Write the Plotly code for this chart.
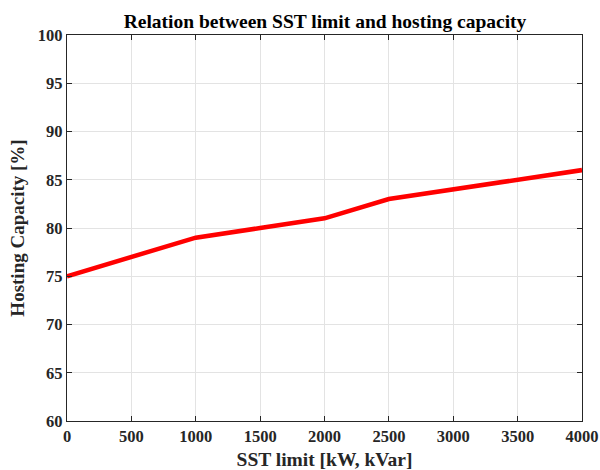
import plotly.graph_objects as go

sst_limit = [0, 500, 1000, 1500, 2000, 2500, 3000, 3500, 4000]
hosting_capacity = [75, 77, 79, 80, 81, 83, 84, 85, 86]
x_ticks = [0, 500, 1000, 1500, 2000, 2500, 3000, 3500, 4000]
y_ticks = [60, 65, 70, 75, 80, 85, 90, 95, 100]

font_family = "Liberation Serif, Times New Roman, serif"

fig = go.Figure()
fig.add_trace(go.Scatter(x=sst_limit, y=hosting_capacity, mode="lines",
                         line=dict(color="#ff0000", width=4.5), showlegend=False))

axis_common = dict(
    showline=True, linecolor="#262626", linewidth=1.3, mirror="ticks",
    ticks="inside", ticklen=5, tickwidth=1, tickcolor="#262626",
    showgrid=True, gridcolor="#e3e3e3", gridwidth=1, zeroline=False,
    automargin=False,
    tickfont=dict(family=font_family, size=16.5, color="#262626", weight="bold"),
)

fig.update_layout(
    width=600, height=470,
    margin=dict(l=67, r=18, t=35, b=49),
    paper_bgcolor="white", plot_bgcolor="white",
    title=dict(text="<b>Relation between SST limit and hosting capacity</b>",
               x=325 / 600, xanchor="center", y=1 - 21 / 470, yanchor="middle",
               automargin=False,
               font=dict(family=font_family, size=19.5, color="black")),
    xaxis=dict(range=[0, 4000], tickvals=x_ticks,
               title=dict(text="<b>SST limit [kW, kVar]</b>", standoff=11,
                          font=dict(family=font_family, size=19.5, color="#262626")),
               **axis_common),
    yaxis=dict(range=[60, 100], tickvals=y_ticks,
               title=dict(text="<b>Hosting Capacity [%]</b>", standoff=8,
                          font=dict(family=font_family, size=19, color="#262626")),
               **axis_common),
)

fig.write_html("out.html",
               config={"displayModeBar": False},
               post_script="document.body.style.margin='0px';document.body.style.overflow='hidden';")
